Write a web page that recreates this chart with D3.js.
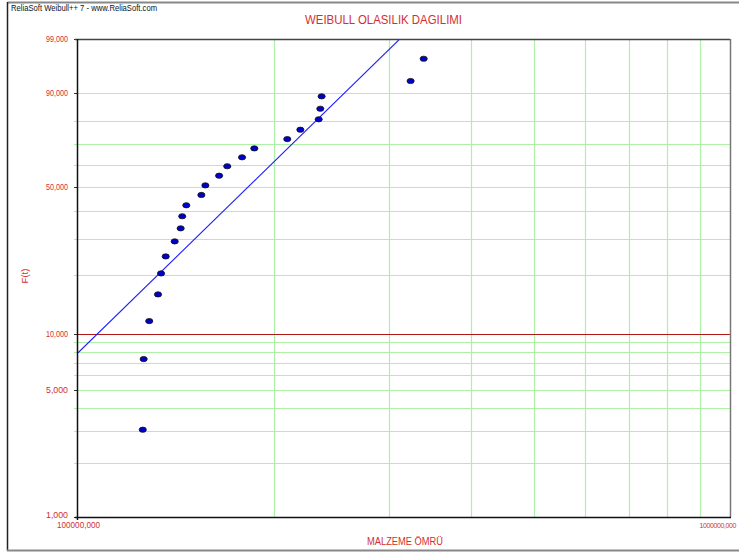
<!DOCTYPE html>
<html><head><meta charset="utf-8">
<script src="https://cdn.jsdelivr.net/npm/d3@7"></script>
<style>
body{margin:0;background:#fff;}
text{font-family:"Liberation Sans Narrow","Arial Narrow","Liberation Sans",Arial,sans-serif;}
</style></head><body>
<svg id="c" width="739" height="555"></svg>
<script>
// ---- data ----
const times = [125700,126100,128600,132650,134080,136300,140700,143700,144500,146600,154600,156800,164600,169400,178500,186400,209400,219300,233960,235300,236400,323700,339000];
const unreliability = [3.03,7.33,11.65,16.0,20.4,24.7,29.1,33.4,37.8,42.1,46.4,50.6,55.0,59.4,63.6,67.8,72.1,76.3,80.7,84.8,89.0,93.2,97.2];
const fitBeta = 3.54;
const fitEta = 202400;
const referenceLineF = 10;
const yTickValues = [1,5,10,50,90,99];
const yTickLabels = ["1,000","5,000","10,000","50,000","90,000","99,000"];
const yGridValues = [2,3,4,5,6,7,8,9,10,20,30,40,50,60,70,80,90];
const xGridValues = [200000,300000,400000,500000,600000,700000,800000,900000];
const xTickValues = [100000,1000000];
const xTickLabels = ["100000,000","1000000,000"];
const title = "WEIBULL OLASILIK DAGILIMI";
const header = "ReliaSoft Weibull++ 7 - www.ReliaSoft.com";
const xTitle = "MALZEME ÖMRÜ";
const yTitle = "F(t)";

// ---- layout ----
const svg = d3.select("#c");
const L=78, R=730, T=39, B=517;
const red="#d32f2f";
const weib = f => Math.log(-Math.log(1 - f/100));
const x = d3.scaleLog().domain([100000,1000000]).range([L,R]);
const yLin = d3.scaleLinear().domain([weib(1), weib(99)]).range([B,T]);
const y = f => yLin(weib(f));

// outer frame
svg.append("line").attr("x1",7.5).attr("x2",739).attr("y1",2.5).attr("y2",2.5).attr("stroke","#888").attr("stroke-width",2);
svg.append("line").attr("x1",7.5).attr("x2",7.5).attr("y1",2).attr("y2",551).attr("stroke","#222").attr("stroke-width",1.5);
svg.append("line").attr("x1",7).attr("x2",739).attr("y1",550.5).attr("y2",550.5).attr("stroke","#888").attr("stroke-width",2);

svg.append("text").attr("x",11).attr("y",11).attr("font-size",8.5).attr("fill","#111")
  .attr("textLength",146).attr("lengthAdjust","spacingAndGlyphs").text(header);
svg.append("text").attr("x",305).attr("y",24).attr("font-size",12.5).attr("fill",red)
  .attr("textLength",157).attr("lengthAdjust","spacingAndGlyphs").text(title);

// grid
const g = svg.append("g");
g.selectAll(".hg").data(yGridValues).join("line")
  .attr("x1",L-4).attr("x2",R).attr("y1",d=>Math.round(y(d))+0.5).attr("y2",d=>Math.round(y(d))+0.5)
  .attr("stroke","#aef0a8").attr("stroke-width",1.2);
g.selectAll(".vg").data(xGridValues).join("line")
  .attr("x1",d=>Math.round(x(d))+0.5).attr("x2",d=>Math.round(x(d))+0.5).attr("y1",T).attr("y2",B)
  .attr("stroke","#aef0a8").attr("stroke-width",1.2);

// reference line at 10%
svg.append("line").attr("x1",L-4).attr("x2",R).attr("y1",Math.round(y(referenceLineF))+0.5).attr("y2",Math.round(y(referenceLineF))+0.5)
  .attr("stroke","#b01818").attr("stroke-width",1.2);

// ticks
svg.selectAll(".yt").data(yTickValues).join("line")
  .attr("x1",L-4).attr("x2",L).attr("y1",d=>Math.round(y(d))+0.5).attr("y2",d=>Math.round(y(d))+0.5).attr("stroke","#333");
svg.selectAll(".ytl").data(yTickValues).join("text")
  .attr("x",L-10).attr("y",d=>y(d)+(d===1?1:3)).attr("text-anchor","end").attr("font-size",8.5).attr("fill",red)
  .attr("textLength",22).attr("lengthAdjust","spacingAndGlyphs")
  .text((d,i)=>yTickLabels[i]);
svg.append("text").attr("x",x(xTickValues[0])-21).attr("y",B+11).attr("font-size",8.5).attr("fill",red)
  .attr("textLength",43).attr("lengthAdjust","spacingAndGlyphs").text(xTickLabels[0]);
svg.append("text").attr("x",736).attr("y",B+11).attr("text-anchor","end").attr("font-size",7)
  .attr("letter-spacing","-0.4").attr("fill",red).text(xTickLabels[1]);

// fitted line
svg.append("clipPath").attr("id","pc").append("rect").attr("x",L).attr("y",T).attr("width",R-L).attr("height",B-T);
const fitF = t => 100*(1-Math.exp(-Math.pow(t/fitEta,fitBeta)));
const fitTs = [100000, 400000];
svg.append("path").attr("clip-path","url(#pc)")
  .attr("d", d3.line().x(d=>x(d)).y(d=>y(fitF(d)))(fitTs))
  .attr("fill","none").attr("stroke","#1a1aff").attr("stroke-width",1.1);

// axes & borders
svg.append("line").attr("x1",L-3).attr("x2",R).attr("y1",T+0.5).attr("y2",T+0.5).attr("stroke","#444").attr("stroke-width",1.5);
svg.append("line").attr("x1",R+0.5).attr("x2",R+0.5).attr("y1",T).attr("y2",B).attr("stroke","#777").attr("stroke-width",1.5);
svg.append("line").attr("x1",L-0.5).attr("x2",L-0.5).attr("y1",T).attr("y2",B+3).attr("stroke","#111").attr("stroke-width",1.5);
svg.append("line").attr("x1",L-3).attr("x2",R+1).attr("y1",B+0.5).attr("y2",B+0.5).attr("stroke","#111").attr("stroke-width",1.5);

// points
svg.selectAll(".pt").data(times).join("ellipse")
  .attr("cx",d=>x(d)).attr("cy",(d,i)=>y(unreliability[i]))
  .attr("rx",3.6).attr("ry",2.6).attr("fill","#0000cc").attr("stroke","#111").attr("stroke-width",0.8);

// axis titles
svg.append("text").attr("x",405).attr("y",545).attr("text-anchor","middle").attr("font-size",10).attr("fill",red)
  .attr("textLength",76).attr("lengthAdjust","spacingAndGlyphs").text(xTitle);
svg.append("text").attr("transform","translate(28,276) rotate(-90)").attr("text-anchor","middle").attr("font-size",9.5).attr("fill",red).text(yTitle);
</script>
</body></html>
